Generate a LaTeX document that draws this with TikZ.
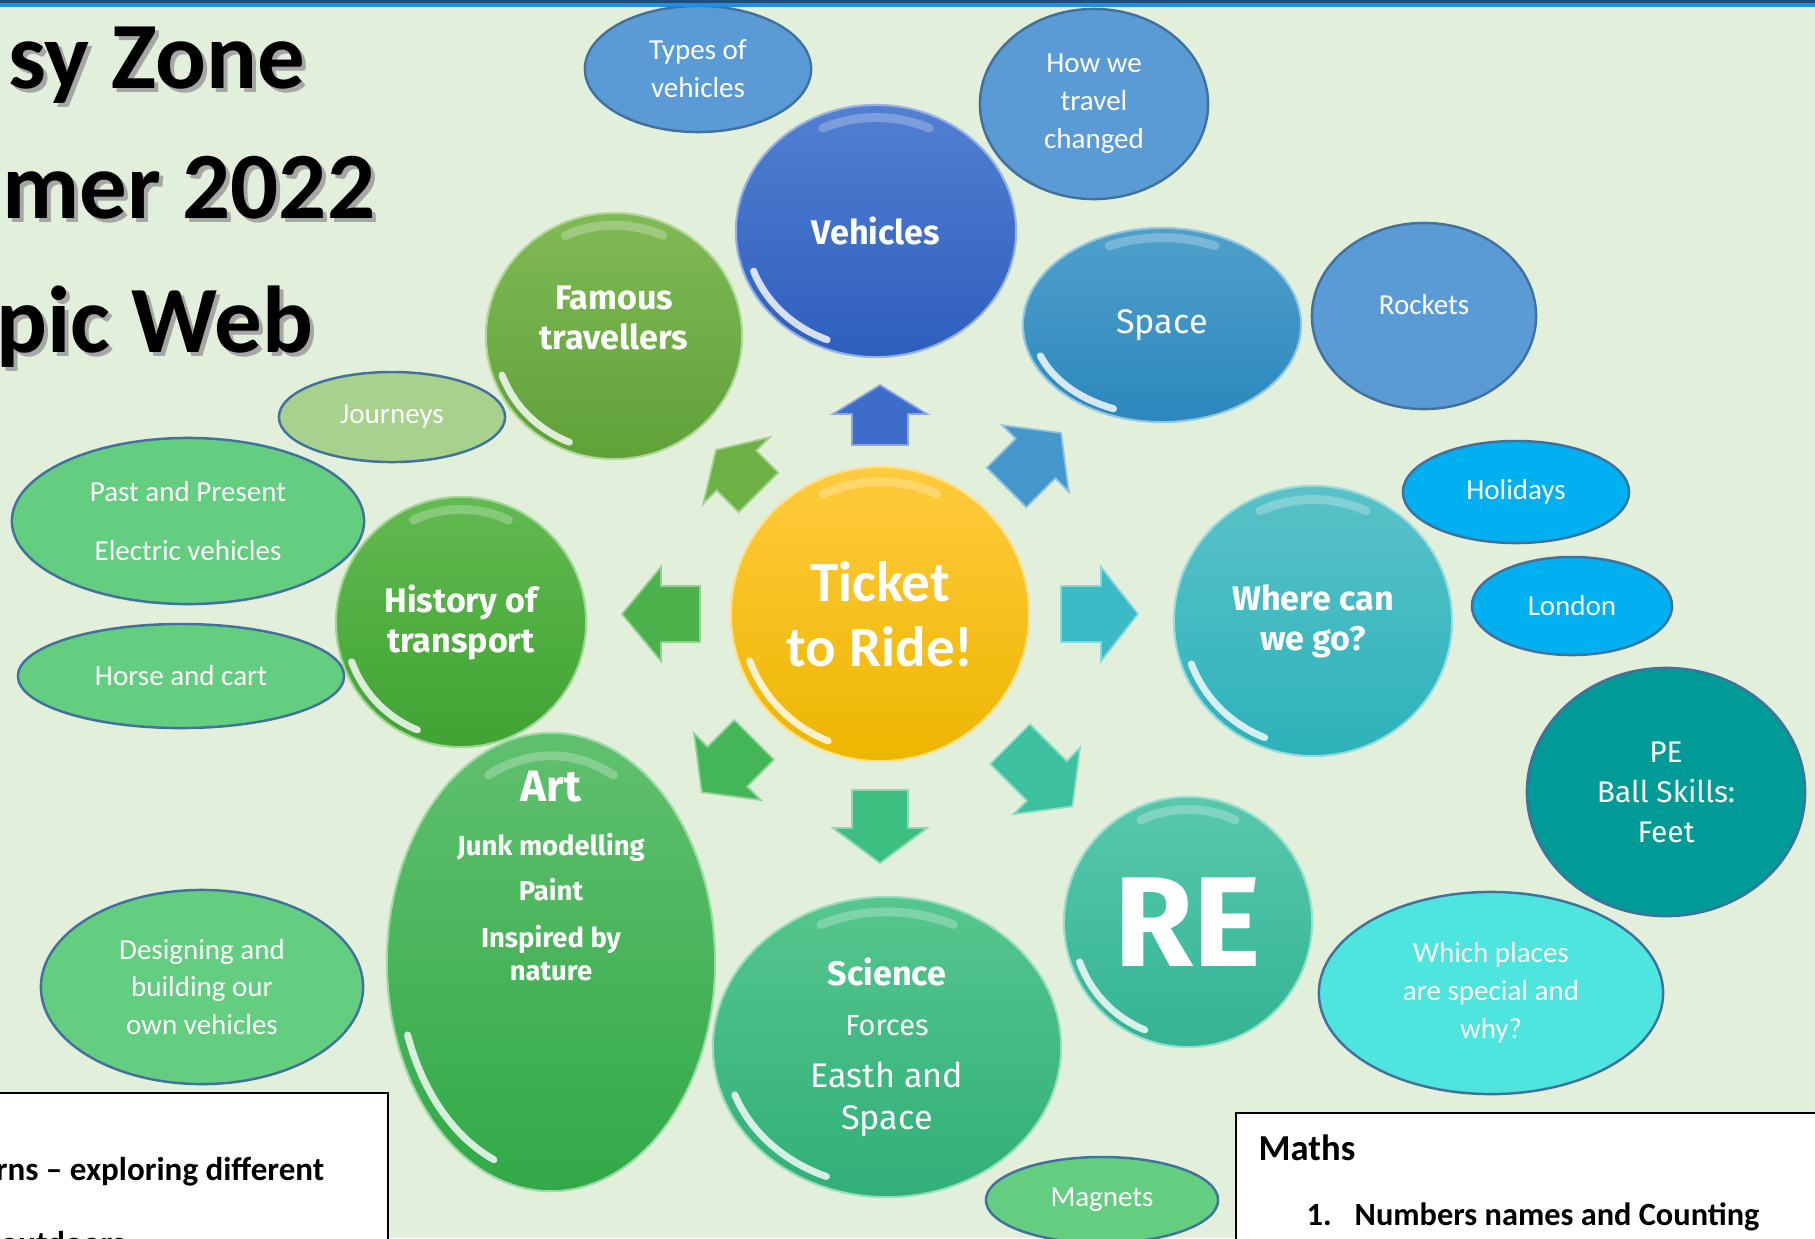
\documentclass[tikz,border=0pt]{standalone}
\usepackage{fontspec}
\setmainfont{Carlito}
\newfontfamily\comicfont{Fira Sans}
\usetikzlibrary{shapes.geometric, calc}

\definecolor{bg}{HTML}{E2EFDA}
\definecolor{topdark}{HTML}{1F4E79}
\definecolor{topblue}{HTML}{1E8FE6}
\definecolor{tkA}{HTML}{FFCB3D}
\definecolor{tkB}{HTML}{EDB600}
\definecolor{vehA}{HTML}{527FD2}
\definecolor{vehB}{HTML}{2E5FBD}
\definecolor{spaA}{HTML}{4FA0CB}
\definecolor{spaB}{HTML}{2C87BD}
\definecolor{wheA}{HTML}{59C2C8}
\definecolor{wheB}{HTML}{2DB2BA}
\definecolor{reA}{HTML}{58C8AC}
\definecolor{reB}{HTML}{33B494}
\definecolor{sciA}{HTML}{55C68E}
\definecolor{sciB}{HTML}{31AF78}
\definecolor{artA}{HTML}{60C06E}
\definecolor{artB}{HTML}{32A948}
\definecolor{hisA}{HTML}{62BA50}
\definecolor{hisB}{HTML}{40A333}
\definecolor{famA}{HTML}{80BA55}
\definecolor{famB}{HTML}{60A138}
\definecolor{medblue}{HTML}{5B9BD5}
\definecolor{sky}{HTML}{00B0F0}
\definecolor{lgreen}{HTML}{A9D18E}
\definecolor{mgreen}{HTML}{63CD80}
\definecolor{teal}{HTML}{009A97}
\definecolor{aqua}{HTML}{4DE5DE}
\definecolor{edge}{HTML}{41719C}
\definecolor{arrN}{HTML}{3D6CC9}
\definecolor{arrNE}{HTML}{4497CB}
\definecolor{arrE}{HTML}{3CBAC6}
\definecolor{arrSE}{HTML}{3DC1A0}
\definecolor{arrS}{HTML}{3EBF82}
\definecolor{arrSW}{HTML}{45B657}
\definecolor{arrW}{HTML}{4BB14A}
\definecolor{arrNW}{HTML}{6DB045}

\tikzset{
  sz/.style 2 args={minimum width=#1*0.02cm, minimum height=#2*0.02cm},
  glass/.style 2 args={ellipse, inner sep=0pt, top color=#1, bottom color=#2,
    draw=#1!60!white, line width=0.6pt, text=white, align=center,
    path picture={
      \path (path picture bounding box.south west) coordinate (pp-sw)
            (path picture bounding box.north east) coordinate (pp-ne);
      \draw[white, line width=2pt, opacity=.8, line cap=round]
        let \p1=($(pp-ne)-(pp-sw)$) in
        ($(pp-sw)!.5!(pp-ne)$) ++(200:0.465*\x1 and 0.465*\y1)
        arc[start angle=200, end angle=248, x radius=0.465*\x1, y radius=0.465*\y1];
      \draw[white, line width=2.5pt, opacity=.25, line cap=round]
        let \p1=($(pp-ne)-(pp-sw)$) in
        ($(pp-sw)!.5!(pp-ne)$) ++(65:0.45*\x1 and 0.45*\y1)
        arc[start angle=65, end angle=115, x radius=0.45*\x1, y radius=0.45*\y1];
    }},
  flat/.style={ellipse, inner sep=0pt, draw=edge, line width=0.7pt, fill=#1,
    text=white, align=center, font=\fontsize{8.25}{10.8}\selectfont},
  bigfont/.style={font=\comicfont\bfseries\fontsize{9.7}{11.4}\selectfont},
  headfont/.style={inner sep=0pt, font=\bfseries\fontsize{27}{32}\selectfont},
  listfont/.style={inner sep=0pt, font=\bfseries\fontsize{9.2}{11}\selectfont},
}

% title line with a soft shadow
\newcommand\topline[3]{%
  \node[headfont, text=black!35, anchor=base east] (#1-s) at ($#2+(4,4)$) {#3};
  \node[headfont, anchor=base east] (#1) at #2 {#3};
}

\begin{document}
\begin{tikzpicture}[x=0.01cm, y=-0.01cm]
\useasboundingbox (0,0) rectangle (1815,1238);
\fill[bg] (0,0) rectangle (1815,1238);

\topline{title1}{(306,88)}{sy Zone}
\topline{title2}{(376,218)}{mer 2022}
\topline{title3}{(314,352)}{pic Web}

% small bubbles
\node[flat=medblue, sz={113}{63}] (types) at (698,69) {Types of\\vehicles};
\node[flat=medblue, sz={114}{95}] (howwe) at (1094,104) {How we\\travel\\changed};
\node[flat=medblue, sz={112}{93}] (rockets) at (1424,316) {};
\node[text=white, font=\fontsize{8.25}{10.8}\selectfont] (rocktxt) at (1424,305) {Rockets};
\node[flat=sky, sz={113}{51}] (holidays) at (1516,492) {Holidays};
\node[flat=sky, sz={100}{49}] (london) at (1572,606) {London};
\node[flat=teal, sz={139}{124}, font=\comicfont\fontsize{8.5}{11.4}\selectfont] (pe) at (1666,792) {PE\\Ball Skills:\\Feet};
\node[flat=aqua, sz={172}{101}] (which) at (1491,993) {Which places\\are special and\\why?};
\node[flat=lgreen, sz={113}{45}] (journeys) at (392,417) {Journeys};
\node[flat=mgreen, sz={176}{83}] (past) at (188,521) {Past and Present\\[6pt]Electric vehicles};
\node[flat=mgreen, sz={163}{52}] (horse) at (181,676) {Horse and cart};
\node[flat=mgreen, sz={161}{97}] (design) at (202,987) {Designing and\\building our\\own vehicles};

% main bubbles
\node[glass={tkA}{tkB}, sz={149}{147}, font=\bfseries\fontsize{16.2}{18.5}\selectfont] (ticket) at (880,614) {Ticket\\to Ride!};
\node[glass={vehA}{vehB}, sz={140}{126}, bigfont] (vehicles) at (876,231) {Vehicles};
\node[glass={famA}{famB}, sz={128}{123}] (famous) at (614,336) {};
\node[bigfont, text=white, align=center] (famtxt) at (614,318) {Famous\\travellers};
\node[glass={spaA}{spaB}, sz={139}{97}, font=\comicfont\fontsize{9.7}{11.4}\selectfont] (space) at (1162,325) {Space};
\node[glass={hisA}{hisB}, sz={125}{125}, bigfont] (history) at (461,622) {History of\\transport};
\node[glass={wheA}{wheB}, sz={139}{135}, bigfont] (where) at (1313,621) {Where can\\we go?};
\node[glass={artA}{artB}, sz={164}{229}] (art) at (551,962) {};
\node[text=white, align=center, font=\comicfont\bfseries\fontsize{7.8}{9.4}\selectfont] (arttxt) at (551,876)
  {{\fontsize{12.5}{14}\selectfont Art}\\[6pt]Junk modelling\\[3.4pt]Paint\\[4pt]Inspired by\\nature};
\node[glass={sciA}{sciB}, sz={174}{150}, font=\comicfont\fontsize{9.7}{10.8}\selectfont] (science) at (887,1047)
  {{\bfseries Science}\\[3.5pt]{\fontsize{8.25}{10}\selectfont Forces}\\[4pt]Easth and\\[1pt]Space};
\node[glass={reA}{reB}, sz={124}{125}, font=\comicfont\bfseries\fontsize{36.4}{40}\selectfont] (re) at (1188,922) {RE};
\node[flat=mgreen, sz={116}{43}] (magnets) at (1102,1200) {Magnets};

% arrows round the centre
\foreach \ang/\rs/\rh/\rt/\col in {270/169/200/229/arrN, 315/179/220/256/arrNE,
    0/181/221/258/arrE, 45/184/236/272/arrSE, 90/176/214/249/arrS,
    135/178/216/252/arrSW, 180/180/219/258/arrW, 225/172/203/232/arrNW}
  \filldraw[fill=\col, draw=\col!60!white, line width=0.5pt]
    ($(ticket.center)+(\ang:\rs)+(\ang+90:28)$) -- ($(ticket.center)+(\ang:\rh)+(\ang+90:28)$)
    -- ($(ticket.center)+(\ang:\rh)+(\ang+90:47)$) -- ($(ticket.center)+(\ang:\rt)$)
    -- ($(ticket.center)+(\ang:\rh)+(\ang-90:47)$) -- ($(ticket.center)+(\ang:\rh)+(\ang-90:28)$)
    -- ($(ticket.center)+(\ang:\rs)+(\ang-90:28)$) -- cycle;

% boxes at the bottom
\draw[fill=white, line width=0.6pt] (-10,1093) rectangle (388,1260);
\node[inner sep=0pt, font=\bfseries\fontsize{9.4}{11}\selectfont, anchor=base east] (craft) at (325,1180) {rns – exploring different};
\node[inner sep=0pt, font=\bfseries\fontsize{9.4}{11}\selectfont, anchor=base west] (outdoor) at (0,1254) {outdoors};
\draw[fill=white, line width=0.6pt] (1236,1113) rectangle (1830,1260);
\node[inner sep=0pt, font=\bfseries\fontsize{10.4}{12}\selectfont, anchor=base west] (maths) at (1258,1160) {Maths};
\node[listfont, anchor=base west] (num) at (1306,1225) {1.};
\node[listfont, anchor=base west] (counting) at (1354,1225) {Numbers names and Counting};

% top rule
\fill[topdark] (0,0) rectangle (1815,3);
\fill[topblue] (0,3) rectangle (1815,7);
\end{tikzpicture}
\end{document}
